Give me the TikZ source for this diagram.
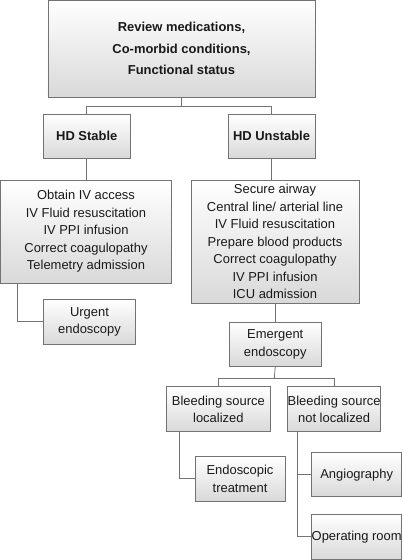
\documentclass[tikz,border=0pt]{standalone}
\usepackage{fontspec}
\setmainfont{Liberation Sans}
\usetikzlibrary{shadings}
\tikzset{
  box/.style={draw=black!55, line width=0.8bp, top color=white, bottom color=black!15,
    inner sep=0pt, outer sep=0pt, font=\fontsize{13}{17.5}\selectfont, text=black!90, align=center},
  conn/.style={draw=black!55, line width=0.8bp},
}
\begin{document}
\begin{tikzpicture}[x=1bp,y=-1bp]
\useasboundingbox (0,0) rectangle (403,560);
% boxes
\node[box, minimum width=267bp, minimum height=97bp, font=\bfseries\fontsize{13}{21.8}\selectfont] (top) at (181.5,48.5) {Review medications,\\Co-morbid conditions,\\Functional status};
\node[box, minimum width=86.5bp, minimum height=44bp, font=\bfseries\fontsize{13}{16}\selectfont] (st) at (86.75,136) {HD Stable};
\node[box, minimum width=87bp, minimum height=44bp, font=\bfseries\fontsize{13}{16}\selectfont] (un) at (271.5,136) {HD Unstable};
\node[box, minimum width=171bp, minimum height=103bp] (stl) at (86,231.5) {Obtain IV access\\IV Fluid resuscitation\\IV PPI infusion\\Correct coagulopathy\\Telemetry admission};
\node[box, minimum width=168bp, minimum height=123bp] (unl) at (275,241.5) {Secure airway\\Central line/ arterial line\\IV Fluid resuscitation\\Prepare blood products\\Correct coagulopathy\\IV PPI infusion\\ICU admission};
\node[box, minimum width=92bp, minimum height=44.5bp] (urg) at (89.5,321.7) {Urgent\\endoscopy};
\node[box, minimum width=92.5bp, minimum height=44bp] (em) at (275.25,344.3) {Emergent\\endoscopy};
\node[box, minimum width=104.7bp, minimum height=45bp] (loc) at (218.35,409.2) {Bleeding source\\localized};
\node[box, minimum width=91.7bp, minimum height=45bp] (nloc) at (334.15,409.2) {Bleeding source\\not localized};
\node[box, minimum width=90bp, minimum height=44.3bp] (endo) at (240,478.85) {Endoscopic\\treatment};
\node[box, minimum width=90bp, minimum height=44bp] (ang) at (356.7,474.7) {Angiography};
\node[box, minimum width=90bp, minimum height=45bp] (or) at (356.7,536.8) {Operating room};
% junction coordinates
\coordinate (j1) at (181.5,106);
\coordinate (j2) at (274.3,378.3);
% connectors
\draw[conn] (top.south) -- (j1);
\draw[conn] (j1 -| st.north) -- (j1 -| un.north);
\draw[conn] (j1 -| st.north) -- (st.north);
\draw[conn] (j1 -| un.north) -- (un.north);
\draw[conn] (st.south) -- (stl.north -| st.south);
\draw[conn] (un.south) -- (unl.north -| un.south);
\draw[conn] (stl.south -| 17.7,0) |- (urg.west);
\draw[conn] (unl.south -| em.north) -- (em.north);
\draw[conn] (em.south) -- (j2);
\draw[conn] (j2 -| loc.north) -- (j2 -| nloc.north);
\draw[conn] (j2 -| loc.north) -- (loc.north);
\draw[conn] (j2 -| nloc.north) -- (nloc.north);
\draw[conn] (loc.south -| 179.3,0) |- (endo.west);
\draw[conn] (nloc.south -| 297.3,0) |- (or.west);
\draw[conn] (ang.west -| 297.3,0) -- (ang.west);
\end{tikzpicture}
\end{document}
